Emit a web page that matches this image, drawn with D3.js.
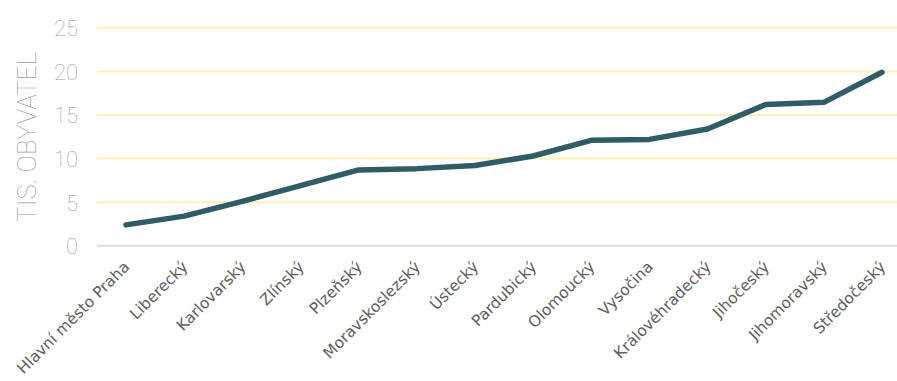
<!DOCTYPE html>
<html>
<head>
<meta charset="utf-8">
<script src="https://cdn.jsdelivr.net/npm/d3@7"></script>
<style>
  html, body { margin: 0; padding: 0; background: #fff; }
  svg { display: block; }
</style>
</head>
<body>
<svg id="chart" width="897" height="381"></svg>
<script>
// Regions of the Czech Republic, thousands of inhabitants
const regions = [
  "Hlavní město Praha", "Liberecký", "Karlovarský", "Zlínský", "Plzeňský",
  "Moravskoslezský", "Ústecký", "Pardubický", "Olomoucký", "Vysočina",
  "Královéhradecký", "Jihočeský", "Jihomoravský", "Středočeský"
];
const values = [2.4, 3.4, 5.1, 6.9, 8.7, 8.85, 9.2, 10.3, 12.1, 12.2, 13.4, 16.2, 16.45, 19.9];
const yTicks = [0, 5, 10, 15, 20, 25];
const yTitle = "TIS. OBYVATEL";

const svg = d3.select("#chart");
const width = 897;

const x = d3.scalePoint().domain(regions).range([126, 882]);
const y = d3.scaleLinear().domain([0, 25]).range([245.8, 27.8]);

// Horizontal gridlines
svg.append("g")
  .selectAll("line")
  .data(yTicks.filter(t => t > 0))
  .join("line")
  .attr("x1", 97).attr("x2", width)
  .attr("y1", d => y(d)).attr("y2", d => y(d))
  .attr("stroke", "#fdf0b4")
  .attr("stroke-width", 2);

// Baseline
svg.append("line")
  .attr("x1", 97).attr("x2", width)
  .attr("y1", y(0)).attr("y2", y(0))
  .attr("stroke", "#dcdcdc")
  .attr("stroke-width", 2);

// Y axis tick labels
const yAxis = d3.axisLeft(y).tickValues(yTicks).tickSize(0).tickPadding(0);
const gy = svg.append("g").attr("transform", "translate(78,0)").call(yAxis);
gy.select(".domain").remove();
gy.selectAll("text")
  .attr("fill", "#a0a0a0")
  .attr("font-family", "Roboto, sans-serif")
  .attr("font-weight", 100)
  .attr("font-size", 22)
  .attr("dy", "0.36em");

// Y axis title
svg.append("text")
  .attr("transform", "translate(36,137) rotate(-90)")
  .attr("text-anchor", "middle")
  .attr("fill", "#a0a0a0")
  .attr("font-family", "Roboto, sans-serif")
  .attr("font-weight", 100)
  .attr("font-size", 26)
  .text(yTitle);

// X axis category labels
const xAxis = d3.axisBottom(x).tickSize(0).tickPadding(0);
const gx = svg.append("g").attr("transform", `translate(0,${y(0)})`).call(xAxis);
gx.select(".domain").remove();
gx.selectAll("text")
  .attr("fill", "#5f5f5f")
  .attr("font-family", "DejaVu Sans, sans-serif")
  .attr("font-size", 15.5)
  .attr("text-anchor", "end")
  .attr("dy", null)
  .attr("y", 0)
  .attr("transform", "translate(4,22) rotate(-45)");

// Data line
const line = d3.line()
  .x((d, i) => x(regions[i]))
  .y(d => y(d));

svg.append("path")
  .datum(values)
  .attr("d", line)
  .attr("fill", "none")
  .attr("stroke", "#2f5c65")
  .attr("stroke-width", 5.5)
  .attr("stroke-linecap", "round")
  .attr("stroke-linejoin", "round");
</script>
</body>
</html>
